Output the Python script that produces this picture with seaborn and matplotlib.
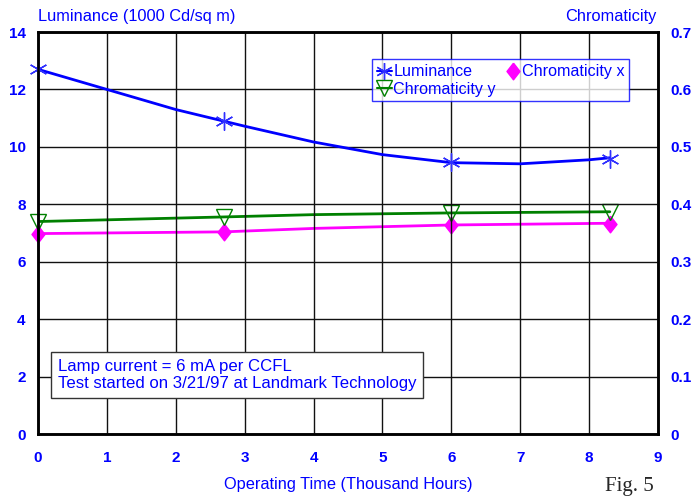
import numpy as np
import pandas as pd
import seaborn as sns
import matplotlib.pyplot as plt
from matplotlib.lines import Line2D

# measured points (thousand hours)
hours = [0, 2.7, 6, 8.3]
luminance = [12.7, 10.9, 9.47, 9.57]
chroma_x = [0.348, 0.352, 0.364, 0.366]
chroma_y = [0.369, 0.378, 0.385, 0.387]

# smoothed trend lines as drawn in the figure
fit_hours = [0, 1, 2, 3, 4, 5, 6, 7, 8, 8.3]
lum_fit = [12.7, 12.0, 11.3, 10.72, 10.17, 9.73, 9.45, 9.41, 9.55, 9.62]
cx_fit_hours = [0, 2.7, 4, 6, 8.3]
cx_fit = [0.349, 0.352, 0.358, 0.364, 0.367]
cy_fit = [0.370, 0.378, 0.382, 0.385, 0.387]

BLUE = "#0000ff"
MAGENTA = "#ff00ff"
GREEN = "#008000"

sns.set_style("white")
plt.rcParams['font.family'] = ['Liberation Sans', 'DejaVu Sans']

fig = plt.figure(figsize=(6.94, 4.98), dpi=100)
ax = fig.add_axes([0.0548, 0.1285, 0.8934, 0.8072])
ax2 = ax.twinx()

sns.lineplot(x=fit_hours, y=lum_fit, ax=ax, color=BLUE, lw=2, sort=False)
sns.lineplot(x=cx_fit_hours, y=cx_fit, ax=ax2, color=MAGENTA, lw=2, sort=False)
sns.lineplot(x=cx_fit_hours, y=cy_fit, ax=ax2, color=GREEN, lw=2, sort=False)

star = (6, 2, 0)
diamond = [(0, 1), (0.78, 0), (0, -1), (-0.78, 0), (0, 1)]
ax.plot(hours, luminance, ls="none", marker=star, ms=13, mec="#3030ff", mew=1, clip_on=False)
ax2.plot(hours, chroma_x, ls="none", marker=diamond, ms=12, mfc=MAGENTA, mec=MAGENTA, clip_on=False)
ax2.plot(hours, chroma_y, ls="none", marker="v", ms=11, mfc="none", mec=GREEN, mew=1, clip_on=False)

ax.set_xlim(0, 9)
ax.set_ylim(0, 14)
ax2.set_ylim(0, 0.7)
ax.set_xticks(range(0, 10))
ax.set_yticks(range(0, 15, 2))
ax2.set_yticks(np.arange(0, 0.71, 0.1))
ax2.set_yticklabels(["0", "0.1", "0.2", "0.3", "0.4", "0.5", "0.6", "0.7"])

ax.grid(True, color="#111111", lw=1)
ax2.grid(False)
for a in (ax, ax2):
    for s in a.spines.values():
        s.set_color("black")
        s.set_linewidth(1.8)
    a.tick_params(length=0, labelsize=11, labelcolor=BLUE)
    for lab in a.get_xticklabels() + a.get_yticklabels():
        lab.set_fontweight("bold")
ax.tick_params(axis="x", pad=12)
ax.tick_params(axis="y", pad=9)
ax2.tick_params(axis="y", pad=9)
ax.set_zorder(ax2.get_zorder() + 1)
ax.patch.set_visible(False)

ax.set_xlabel("Operating Time (Thousand Hours)", color=BLUE, fontsize=11.8, labelpad=9)
ax.set_ylabel("")
ax2.set_ylabel("")
fig.text(38 / 694, 1 - 17 / 498, "Luminance (1000 Cd/sq m)", color=BLUE, fontsize=11.8, va="center", ha="left")
fig.text(656 / 694, 1 - 17 / 498, "Chromaticity", color=BLUE, fontsize=11.8, va="center", ha="right")

handles = [
    Line2D([], [], color=BLUE, lw=1.5, marker=star, ms=12, mec="#3030ff"),
    Line2D([], [], color=GREEN, lw=1.5, marker="v", ms=11, mfc="none", mec=GREEN),
    Line2D([], [], ls="none", marker=diamond, ms=12, mfc=MAGENTA, mec=MAGENTA),
]
labels = ["Luminance", "Chromaticity y", "Chromaticity x"]
leg = ax.legend(handles, labels, ncol=2, loc="upper left", bbox_to_anchor=(0.539, 0.932),
                fontsize=11.6, frameon=True, fancybox=False, handlelength=0.9,
                handletextpad=0.1, columnspacing=0.6, borderpad=0.3, labelspacing=0.15,
                borderaxespad=0)
leg.get_frame().set_edgecolor(BLUE)
leg.get_frame().set_linewidth(1)
for t in leg.get_texts():
    t.set_color(BLUE)

ax.text(0.032, 0.187,
        "Lamp current = 6 mA per CCFL\nTest started on 3/21/97 at Landmark Technology",
        transform=ax.transAxes, color=BLUE, fontsize=12.1, va="top", ha="left", linespacing=1.2,
        bbox=dict(boxstyle="square,pad=0.4", fc="white", ec="#333333", lw=1))

fig.text(605 / 694, 1 - 477 / 498, "Fig. 5", fontsize=15, family="Liberation Serif", va="top", ha="left")

fig.savefig("out.png", dpi=100)
